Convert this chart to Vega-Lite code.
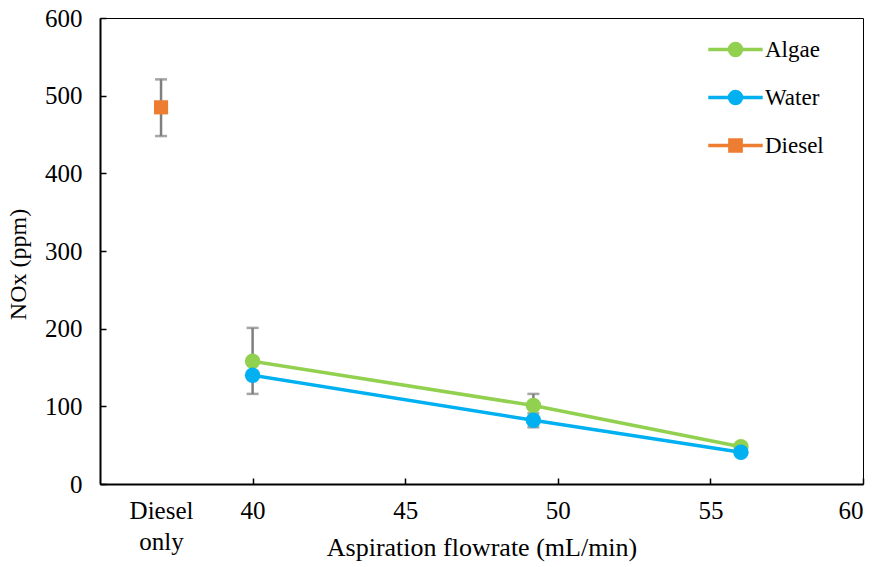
{
  "$schema": "https://vega.github.io/schema/vega-lite/v6.json",
  "width": 763,
  "height": 466,
  "autosize": {"type": "none"},
  "padding": {"left": 100, "top": 18, "right": 17, "bottom": 83},
  "background": "white",
  "config": {
    "font": "Liberation Serif",
    "view": {"stroke": "black", "strokeWidth": 1},
    "axis": {
      "domainColor": "black", "domainWidth": 2, "tickColor": "black", "tickWidth": 1.5,
      "labelFont": "Liberation Serif", "labelFontSize": 25, "labelColor": "black",
      "titleFont": "Liberation Serif", "titleFontSize": 26, "titleFontWeight": "normal", "titleColor": "black",
      "grid": false
    },
    "legend": {
      "orient": "none", "legendX": 624, "legendY": 20,
      "labelFont": "Liberation Serif", "labelFontSize": 23, "labelColor": "black",
      "symbolSize": 256, "symbolStrokeWidth": 3.5, "rowPadding": 21, "labelOffset": 18, "padding": 0
    }
  },
  "datasets": {
    "pts": [
      {"series": "Algae", "x": 40, "y": 158},
      {"series": "Algae", "x": 49.2, "y": 101},
      {"series": "Algae", "x": 56, "y": 48},
      {"series": "Water", "x": 40, "y": 140},
      {"series": "Water", "x": 49.2, "y": 82},
      {"series": "Water", "x": 56, "y": 41},
      {"series": "Diesel", "x": 37, "y": 485}
    ],
    "err": [
      {"series": "Diesel", "x": 37, "lo": 448, "hi": 521},
      {"series": "Algae", "x": 40, "lo": 116, "hi": 201},
      {"series": "Algae", "x": 49.2, "lo": 86, "hi": 116},
      {"series": "Water", "x": 49.2, "lo": 73, "hi": 91}
    ]
  },
  "layer": [
    {
      "data": {"name": "pts"},
      "transform": [{"filter": "false"}],
      "mark": {"type": "point", "filled": true, "opacity": 1, "size": 256},
      "encoding": {
        "color": {"field": "series", "type": "nominal", "title": null,
          "scale": {"domain": ["Algae", "Water", "Diesel"], "range": ["#92D050", "#00B0F0", "#ED7D31"]},
          "legend": {"title": null,
          "encode": {"symbols": {"update": {"stroke": {"scale": "color", "field": "value"}, "strokeWidth": {"value": 3.5}, "fill": {"scale": "color", "field": "value"}, "opacity": {"value": 1}}}}}},
        "shape": {"field": "series", "type": "nominal", "title": null, "legend": {"title": null},
          "scale": {"domain": ["Algae", "Water", "Diesel"], "range": [
            "M-3.4,0H3.4M0.75,0A0.75,0.75 0 1 1 -0.75,0A0.75,0.75 0 1 1 0.75,0Z",
            "M-3.4,0H3.4M0.75,0A0.75,0.75 0 1 1 -0.75,0A0.75,0.75 0 1 1 0.75,0Z",
            "M-3.4,0H3.4M-0.7,-0.7H0.7V0.7H-0.7Z"
          ]}}
      }
    },
    {
      "data": {"name": "err"},
      "mark": {"type": "errorbar", "ticks": {"size": 12, "thickness": 2.5, "color": "#7f7f7f"}, "rule": {"strokeWidth": 2.5, "color": "#7f7f7f"}},
      "encoding": {
        "x": {"field": "x", "type": "quantitative", "title": "Aspiration flowrate (mL/min)", "scale": {"domain": [35, 60], "nice": false, "zero": false}},
        "y": {"field": "lo", "type": "quantitative", "title": "NOx (ppm)", "scale": {"domain": [0, 600], "nice": false}},
        "y2": {"field": "hi"}
      }
    },
    {
      "data": {"name": "pts"},
      "transform": [{"filter": "datum.series != 'Diesel'"}],
      "mark": {"type": "line", "strokeWidth": 3.5},
      "encoding": {
        "x": {"field": "x", "type": "quantitative", "title": "Aspiration flowrate (mL/min)"},
        "y": {"field": "y", "type": "quantitative", "title": "NOx (ppm)"},
        "color": {"field": "series", "type": "nominal", "title": null}
      }
    },
    {
      "data": {"name": "pts"},
      "transform": [{"filter": "datum.series != 'Diesel'"}],
      "mark": {"type": "point", "shape": "circle", "filled": true, "opacity": 1, "size": 240},
      "encoding": {
        "x": {"field": "x", "type": "quantitative", "title": "Aspiration flowrate (mL/min)"},
        "y": {"field": "y", "type": "quantitative", "title": "NOx (ppm)"},
        "color": {"field": "series", "type": "nominal", "title": null}
      }
    },
    {
      "data": {"name": "pts"},
      "transform": [{"filter": "datum.series == 'Diesel'"}],
      "mark": {"type": "point", "shape": "square", "filled": true, "opacity": 1, "size": 200},
      "encoding": {
        "x": {"field": "x", "type": "quantitative", "title": "Aspiration flowrate (mL/min)",
          "axis": {
            "values": [37, 40, 45, 50, 55, 60],
            "labelExpr": "datum.value == 37 ? ['Diesel', 'only'] : datum.label",
            "labelLineHeight": 31,
            "tickSize": -6,
            "labelPadding": 20,
            "tickOpacity": {"condition": {"test": "datum.value == 37", "value": 0}, "value": 1},
            "titleY": 50,
            "titleBaseline": "top"
          }
        },
        "y": {"field": "y", "type": "quantitative", "title": "NOx (ppm)",
          "axis": {"values": [0, 100, 200, 300, 400, 500, 600], "tickSize": -6, "labelPadding": 24, "titlePadding": 14, "titleFontSize": 24, "titleY": 246}
        },
        "color": {"field": "series", "type": "nominal", "title": null}
      }
    }
  ]
}
